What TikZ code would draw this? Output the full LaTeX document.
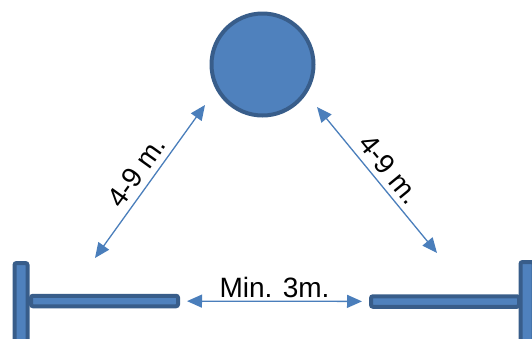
\documentclass[tikz,border=0pt]{standalone}
\usepackage{fontspec}
\setmainfont{Liberation Sans}
\usepackage{tikz}
\definecolor{PostBlue}{HTML}{4F81BD}
\definecolor{PostEdge}{HTML}{385D8A}
\definecolor{ArrowBlue}{HTML}{4A7EBB}
\usetikzlibrary{
	positioning,
	calc,
	arrows.meta
}

\begin{document}
\begin{tikzpicture}[
		x=1pt, y=-1pt,
		framed/.style={draw=PostEdge, line width=4pt},
		filled/.style={framed, fill=PostBlue, rounded corners=2pt, inner sep=0pt},
		bar/.style={filled, rectangle, minimum width=147pt, minimum height=10.5pt},
		post/.style={filled, rectangle, minimum width=13pt, minimum height=84pt}
	]
		\useasboundingbox (0,0) rectangle (532,338);
		\clip (0,0) rectangle (532,338);

		\node[framed, fill=PostBlue, circle, minimum size=102pt, inner sep=0pt] at (262.5,64.5) (ball) {};

		\node[bar] at (104.5,301) (leftbar) {};
		\node[bar, minimum width=148pt] at (445,301.5) (rightbar) {};
		\node[post] at (21,305) (leftpost) {};
		\node[post] at (527,304) (rightpost) {};

		\coordinate (leftlow) at (95,258);
		\coordinate (lefthigh) at (205,105);
		\coordinate (righthigh) at (317,107);
		\coordinate (rightlow) at (437,253);

		\begin{scope}[
			every path/.style={draw=ArrowBlue, {Triangle[length=15pt,width=13pt]}-{Triangle[length=15pt,width=13pt]}, line width=1.3pt},
			every node/.style={font=\fontsize{28}{32}\selectfont, midway, above, sloped, inner sep=3pt}]

			\draw[shorten <=7pt, shorten >=7pt] (leftbar) -- (rightbar) node {Min. 3m.};
			\draw (leftlow) -- (lefthigh) node[inner sep=6pt] {4-9 m.};
			\draw (righthigh) -- (rightlow) node[inner sep=6pt] {4-9 m.};

		\end{scope}

	\end{tikzpicture}
\end{document}
